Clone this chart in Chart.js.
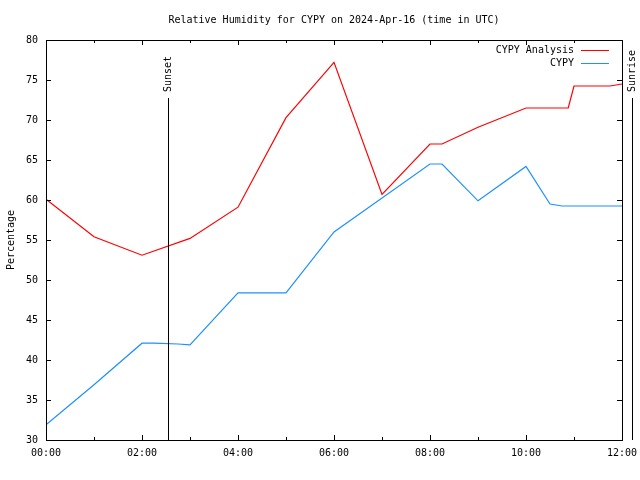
<!DOCTYPE html>
<html>
<head>
<meta charset="utf-8">
<script src="https://cdn.jsdelivr.net/npm/chart.js@4/dist/chart.umd.min.js"></script>
<style>
  html, body { margin: 0; padding: 0; background: #fff; }
  #chart { display: block; }
</style>
</head>
<body>
<canvas id="chart" width="640" height="480"></canvas>
<script>
// Chart data (hours after 00:00 UTC, relative humidity %)
const analysisHours = [0, 1, 2, 3, 4, 5, 6, 7, 8, 8.25, 9, 10, 10.88, 11, 11.75, 12];
const analysisRH = [60.1, 55.4, 53.1, 55.2, 59.1, 70.3, 77.2, 60.7, 67.0, 67.0, 69.1, 71.5, 71.5, 74.25, 74.25, 74.5];

const obsHours = [0, 1, 2, 2.25, 2.75, 3, 4, 5, 6, 8, 8.25, 9, 10, 10.5, 10.75, 12];
const obsRH = [31.9, 36.9, 42.1, 42.1, 42.0, 41.9, 48.4, 48.4, 56.0, 64.5, 64.5, 59.9, 64.2, 59.5, 59.25, 59.25];

const seriesLabels = ['CYPY Analysis', 'CYPY'];
const seriesColors = ['#ff0000', '#1e90ff'];

// Sun events (hours UTC)
const sunEvents = [
  { label: 'Sunset', hour: 2.54 },
  { label: 'Sunrise', hour: 12.2 }
];

const titleText = 'Relative Humidity for CYPY on 2024-Apr-16 (time in UTC)';
const yTitle = 'Percentage';
const FONT = '10px "DejaVu Sans Mono", monospace';

function toPoints(xs, ys) {
  return xs.map((x, i) => ({ x: x, y: ys[i] }));
}

function hourLabel(v) {
  const h = Math.round(v);
  return (h < 10 ? '0' : '') + h + ':00';
}

// Gnuplot-like frame: border, inward ticks, title, legend, sun markers
const framePlugin = {
  id: 'frame',
  afterDraw(chart) {
    const ctx = chart.ctx;
    const area = chart.chartArea;
    const xs = chart.scales.x;
    const ys = chart.scales.y;
    ctx.save();
    ctx.strokeStyle = '#000';
    ctx.lineWidth = 1;
    ctx.strokeRect(Math.round(area.left) + 0.5, Math.round(area.top) + 0.5,
      Math.round(area.right - area.left), Math.round(area.bottom - area.top));

    // inward ticks
    ctx.beginPath();
    xs.ticks.forEach(t => {
      const px = Math.round(xs.getPixelForValue(t.value)) + 0.5;
      const len = (Math.round(t.value) % 2 === 0) ? 5 : 3;
      ctx.moveTo(px, area.bottom); ctx.lineTo(px, area.bottom - len);
      ctx.moveTo(px, area.top); ctx.lineTo(px, area.top + len);
    });
    ys.ticks.forEach(t => {
      const py = Math.round(ys.getPixelForValue(t.value)) + 0.5;
      ctx.moveTo(area.left, py); ctx.lineTo(area.left + 5, py);
      ctx.moveTo(area.right, py); ctx.lineTo(area.right - 5, py);
    });
    ctx.stroke();

    ctx.fillStyle = '#000';
    ctx.font = FONT;

    // title
    ctx.textAlign = 'center';
    ctx.textBaseline = 'middle';
    ctx.fillText(titleText, (area.left + area.right) / 2, 20);

    // y axis title
    ctx.save();
    ctx.translate(11, (area.top + area.bottom) / 2);
    ctx.rotate(-Math.PI / 2);
    ctx.fillText(yTitle, 0, 0);
    ctx.restore();

    // sunset / sunrise markers
    sunEvents.forEach(ev => {
      const px = Math.round(xs.getPixelForValue(ev.hour)) + 0.5;
      ctx.beginPath();
      ctx.moveTo(px, area.top + 58);
      ctx.lineTo(px, area.bottom);
      ctx.stroke();
      ctx.save();
      ctx.translate(px, area.top + 52);
      ctx.rotate(-Math.PI / 2);
      ctx.textAlign = 'left';
      ctx.textBaseline = 'middle';
      ctx.fillText(ev.label, 0, 0);
      ctx.restore();
    });

    // legend
    chart.data.datasets.forEach((ds, i) => {
      const y = Math.round(area.top + 10 + i * 12.5) + 0.5;
      ctx.textAlign = 'right';
      ctx.textBaseline = 'middle';
      ctx.fillStyle = '#000';
      ctx.fillText(ds.label, area.right - 48, y);
      ctx.strokeStyle = ds.borderColor;
      ctx.beginPath();
      ctx.moveTo(area.right - 41, y);
      ctx.lineTo(area.right - 13, y);
      ctx.stroke();
    });
    ctx.restore();
  }
};

const chart = new Chart(document.getElementById('chart'), {
  type: 'line',
  data: {
    datasets: [
      {
        label: seriesLabels[0],
        data: toPoints(analysisHours, analysisRH),
        borderColor: seriesColors[0],
        borderWidth: 1.2,
        pointRadius: 0,
        tension: 0,
        fill: false
      },
      {
        label: seriesLabels[1],
        data: toPoints(obsHours, obsRH),
        borderColor: seriesColors[1],
        borderWidth: 1.2,
        pointRadius: 0,
        tension: 0,
        fill: false
      }
    ]
  },
  options: {
    responsive: false,
    animation: false,
    devicePixelRatio: 1,
    layout: { padding: { top: 40, right: 18, left: 0, bottom: 0 } },
    plugins: {
      legend: { display: false },
      title: { display: false },
      tooltip: { enabled: false }
    },
    scales: {
      x: {
        type: 'linear',
        min: 0,
        max: 12,
        afterFit: s => { s.height = 40; s.paddingLeft = 0; s.paddingRight = 0; },
        grid: { display: false, drawTicks: false },
        border: { display: false },
        ticks: {
          stepSize: 1,
          autoSkip: false,
          maxRotation: 0,
          padding: 7,
          color: '#000',
          font: { family: '"DejaVu Sans Mono", monospace', size: 10 },
          callback: v => (Math.round(v) % 2 === 0 ? hourLabel(v) : '')
        }
      },
      y: {
        min: 30,
        max: 80,
        afterFit: s => { s.width = 46; s.paddingTop = 0; s.paddingBottom = 0; },
        grid: { display: false, drawTicks: false },
        border: { display: false },
        ticks: {
          stepSize: 5,
          padding: 8,
          color: '#000',
          font: { family: '"DejaVu Sans Mono", monospace', size: 10 }
        }
      }
    }
  },
  plugins: [framePlugin]
});
</script>
</body>
</html>
